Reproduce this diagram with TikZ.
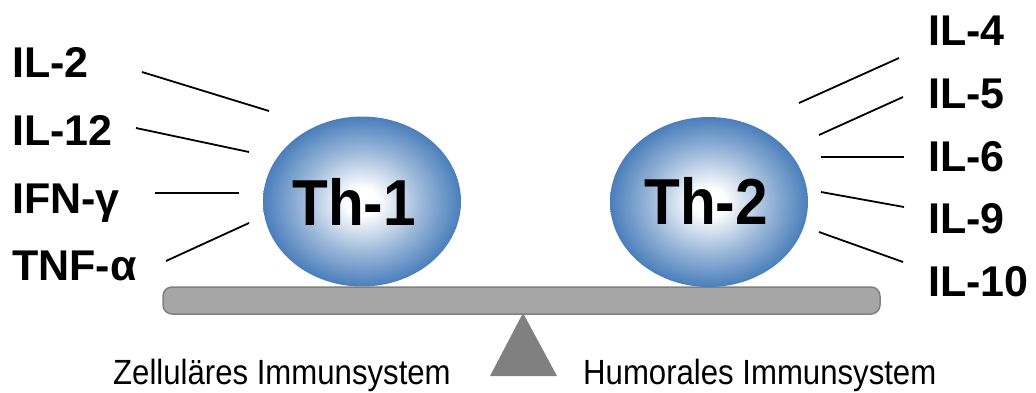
\documentclass[tikz,border=0pt]{standalone}
\usepackage{fontspec}
\setmainfont{Liberation Sans}
\newfontfamily\narrowfont[FakeStretch=0.89]{Liberation Sans}
\newfontfamily\thfont[FakeStretch=0.9]{Liberation Sans}
\usepackage{tikz}
\usetikzlibrary{shapes.geometric}
\definecolor{thblue}{RGB}{74,126,187}
\colorlet{thmid}{thblue!55!white}
\definecolor{bargray}{RGB}{166,166,166}
\definecolor{barline}{RGB}{128,128,128}
\pgfdeclareradialshading{thball}{\pgfpoint{0bp}{0bp}}{color(0bp)=(white); color(4bp)=(white); color(15bp)=(thmid); color(25bp)=(thblue); color(50bp)=(thblue)}
\tikzset{
  cellball/.style={ellipse,shade,shading=thball,minimum width=198pt,minimum height=170pt,inner sep=0pt},
  celltext/.style={font=\thfont\bfseries\fontsize{65}{65}\selectfont,anchor=base,inner sep=0pt},
  cytokine/.style={font=\bfseries\fontsize{43}{43}\selectfont,anchor=base west,inner sep=0pt},
  systemtext/.style={font=\narrowfont\fontsize{35}{35}\selectfont,anchor=base west,inner sep=0pt},
  cytoline/.style={line width=1.8pt},
  balancebar/.style={fill=bargray,draw=barline,line width=1.5pt,rounded corners=9pt}
}

\begin{document}
\begin{tikzpicture}[x=1pt,y=-1pt]
  \useasboundingbox (0,0) rectangle (1036,392);
  \fill[barline] (523,313) -- (557,376) -- (490,376) -- cycle;
  \draw[balancebar] (163,287) rectangle (880,314);
  \node[cellball] (th1) at (362,201.5) {};
  \node[cellball] (th2) at (709,202) {};
  \node[celltext] (th1txt) at (354,225) {Th-1};
  \node[celltext] (th2txt) at (706,224) {Th-2};
  \node[cytokine] (il2) at (12,77) {IL-2};
  \node[cytokine] (il12) at (12,145) {IL-12};
  \node[cytokine] (ifng) at (12,213) {IFN-γ};
  \node[cytokine] (tnfa) at (12,280) {TNF-α};
  \node[cytokine] (il4) at (928,45) {IL-4};
  \node[cytokine] (il5) at (928,108) {IL-5};
  \node[cytokine] (il6) at (928,171) {IL-6};
  \node[cytokine] (il9) at (928,233) {IL-9};
  \node[cytokine] (il10) at (928,296) {IL-10};
  \coordinate (il2-out) at (142,72);   \coordinate (il2-in) at (269,111);
  \coordinate (il12-out) at (136,128); \coordinate (il12-in) at (249,152);
  \coordinate (ifng-out) at (155,193); \coordinate (ifng-in) at (239,193);
  \coordinate (tnfa-out) at (166,261); \coordinate (tnfa-in) at (249,223);
  \coordinate (il4-out) at (899,58);   \coordinate (il4-in) at (799,103);
  \coordinate (il5-out) at (903,97);   \coordinate (il5-in) at (819,135);
  \coordinate (il6-out) at (904,157);  \coordinate (il6-in) at (821,157);
  \coordinate (il9-out) at (904,207);  \coordinate (il9-in) at (821,192);
  \coordinate (il10-out) at (903,262); \coordinate (il10-in) at (819,232);
  \foreach \n in {il2,il12,ifng,tnfa,il4,il5,il6,il9,il10}
    \draw[cytoline] (\n-out) -- (\n-in);
  \node[systemtext] (zell) at (113,384.5) {Zelluläres Immunsystem};
  \node[systemtext] (humor) at (583,384.5) {Humorales Immunsystem};
\end{tikzpicture}
\end{document}
